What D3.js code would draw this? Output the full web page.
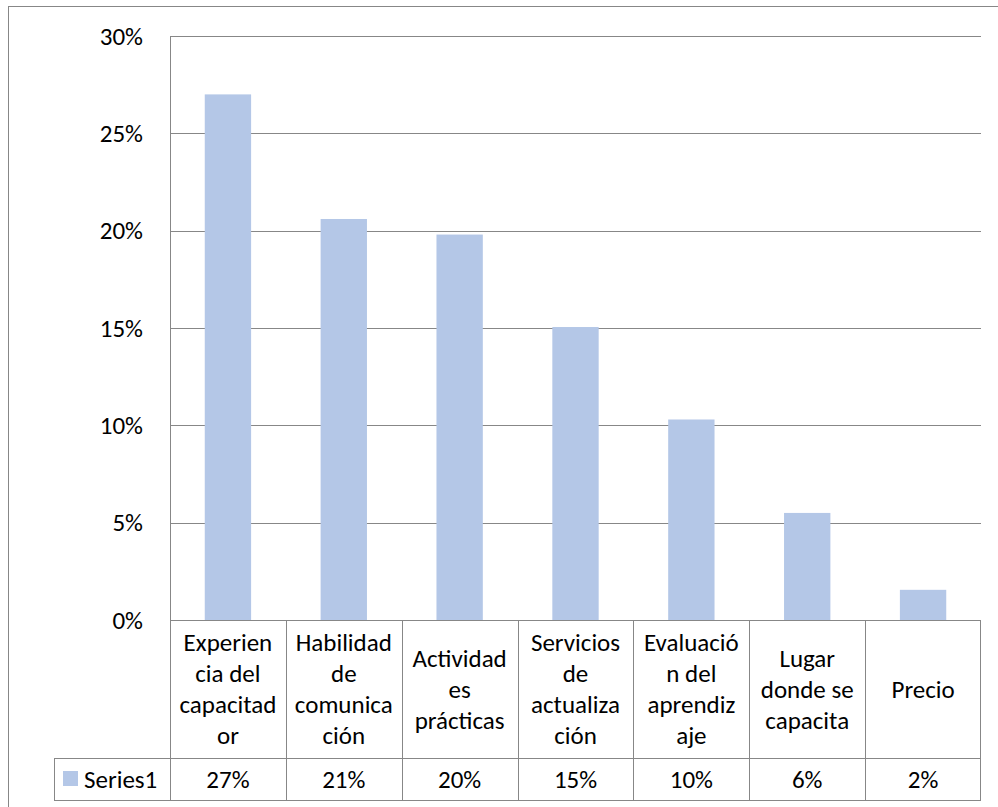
<!DOCTYPE html>
<html>
<head>
<meta charset="utf-8">
<script src="https://cdn.jsdelivr.net/npm/d3@7"></script>
<style>
  body { margin: 0; background: #fff; }
  svg { display: block; font-family: Carlito, Calibri, Lato, sans-serif; }
</style>
</head>
<body>
<svg id="chart"></svg>
<script>
// categories, already broken into lines like in the data table
var categories = [
    ["Experien", "cia del", "capacitad", "or"],
    ["Habilidad", "de", "comunica", "ción"],
    ["Actividad", "es", "prácticas"],
    ["Servicios", "de", "actualiza", "ción"],
    ["Evaluació", "n del", "aprendiz", "aje"],
    ["Lugar", "donde se", "capacita"],
    ["Precio"]
];
var seriesName = "Series1";
var values = [0.270, 0.206, 0.198, 0.1505, 0.103, 0.055, 0.0155];
var tableLabels = ["27%", "21%", "20%", "15%", "10%", "6%", "2%"];
var yTicks = [0, 0.05, 0.10, 0.15, 0.20, 0.25, 0.30];

var svgWidth = 998, svgHeight = 807;
var margin = { top: 36, left: 170, right: 17, bottom: 187 };
var width = svgWidth - margin.left - margin.right;
var height = svgHeight - margin.top - margin.bottom;
var headerH = 138, rowH = 42;
var legendX = 54; // left edge of the legend cell in the table
var fontSize = 25;
var lineGray = "#878787";
var barColor = "#b4c7e7";

var svg = d3.select("#chart")
    .attr("width", svgWidth)
    .attr("height", svgHeight);

// outer chart frame (runs off the right / bottom like the reference)
svg.append("rect")
    .attr("x", 8.5).attr("y", 6.5)
    .attr("width", 995).attr("height", 810)
    .attr("fill", "none")
    .attr("stroke", lineGray);

var g = svg.append("g")
    .attr("transform", "translate(" + margin.left + "," + margin.top + ")");

var x = d3.scaleBand()
    .domain(d3.range(categories.length))
    .range([0, width])
    .paddingInner(0.6)
    .paddingOuter(0.3);

var y = d3.scaleLinear()
    .domain([0, 0.30])
    .range([height, 0]);

// gridlines
g.append("g")
    .attr("class", "grid")
    .call(d3.axisLeft(y).tickValues(yTicks).tickSize(-width).tickFormat(""))
    .call(function(s) { s.select(".domain").remove(); })
    .selectAll("line")
    .attr("stroke", lineGray)
    .attr("shape-rendering", "crispEdges");

// y labels
g.append("g")
    .call(d3.axisLeft(y).tickValues(yTicks).tickSize(0).tickPadding(27).tickFormat(d3.format(".0%")))
    .call(function(s) { s.select(".domain").remove(); })
    .selectAll("text")
    .attr("font-size", fontSize)
    .attr("font-family", "Carlito, Calibri, Lato, sans-serif")
    .attr("fill", "#000");

// bars
g.selectAll(".bar")
    .data(values)
    .enter().append("rect")
    .attr("class", "bar")
    .attr("x", function(d, i) { return x(i); })
    .attr("y", function(d) { return y(d); })
    .attr("width", x.bandwidth())
    .attr("height", function(d) { return height - y(d); })
    .attr("fill", barColor);

// data table
var step = x.step();
var table = g.append("g").attr("transform", "translate(0," + height + ")");

var edge = function(i) { return Math.round(x(i) - step * x.paddingOuter()) + 0.5; };

// horizontal lines
table.append("line")
    .attr("x1", 0.5).attr("x2", width)
    .attr("y1", 0.5).attr("y2", 0.5)
    .attr("stroke", lineGray);
table.append("line")
    .attr("x1", legendX - margin.left + 0.5).attr("x2", width)
    .attr("y1", headerH + 0.5).attr("y2", headerH + 0.5)
    .attr("stroke", lineGray);
table.append("line")
    .attr("x1", legendX - margin.left + 0.5).attr("x2", width)
    .attr("y1", headerH + rowH + 0.5).attr("y2", headerH + rowH + 0.5)
    .attr("stroke", lineGray);

// vertical lines
table.selectAll(".vline")
    .data(d3.range(categories.length + 1))
    .enter().append("line")
    .attr("class", "vline")
    .attr("x1", function(i) { return i < categories.length ? edge(i) : width - 0.5; })
    .attr("x2", function(i) { return i < categories.length ? edge(i) : width - 0.5; })
    .attr("y1", 0).attr("y2", headerH + rowH + 1)
    .attr("stroke", lineGray);
table.append("line")
    .attr("x1", legendX - margin.left + 0.5).attr("x2", legendX - margin.left + 0.5)
    .attr("y1", headerH).attr("y2", headerH + rowH + 1)
    .attr("stroke", lineGray);

// y axis line drawn above the grid
g.append("line")
    .attr("x1", 0.5).attr("x2", 0.5)
    .attr("y1", 0).attr("y2", height + 1)
    .attr("stroke", lineGray);

// category labels
var lineH = 31;
var headers = table.selectAll(".cat")
    .data(categories)
    .enter().append("text")
    .attr("class", "cat")
    .attr("text-anchor", "middle")
    .attr("font-size", fontSize)
    .attr("fill", "#000")
    .attr("transform", function(d, i) {
        return "translate(" + (x(i) + x.bandwidth() / 2) + "," + (headerH / 2 - (d.length - 1) * lineH / 2) + ")";
    });
headers.selectAll("tspan")
    .data(function(d) { return d; })
    .enter().append("tspan")
    .attr("x", 0)
    .attr("y", function(d, j) { return j * lineH; })
    .attr("dy", "0.35em")
    .text(function(d) { return d; });

// values row
table.selectAll(".val")
    .data(tableLabels)
    .enter().append("text")
    .attr("class", "val")
    .attr("text-anchor", "middle")
    .attr("font-size", fontSize)
    .attr("fill", "#000")
    .attr("x", function(d, i) { return x(i) + x.bandwidth() / 2; })
    .attr("y", headerH + rowH / 2)
    .attr("dy", "0.35em")
    .text(function(d) { return d; });

// legend key + series name
table.append("rect")
    .attr("x", 63 - margin.left).attr("y", headerH + 13)
    .attr("width", 15).attr("height", 15)
    .attr("fill", barColor);
table.append("text")
    .attr("x", 84 - margin.left)
    .attr("y", headerH + rowH / 2)
    .attr("dy", "0.35em")
    .attr("font-size", fontSize)
    .attr("fill", "#000")
    .text(seriesName);
</script>
</body>
</html>
